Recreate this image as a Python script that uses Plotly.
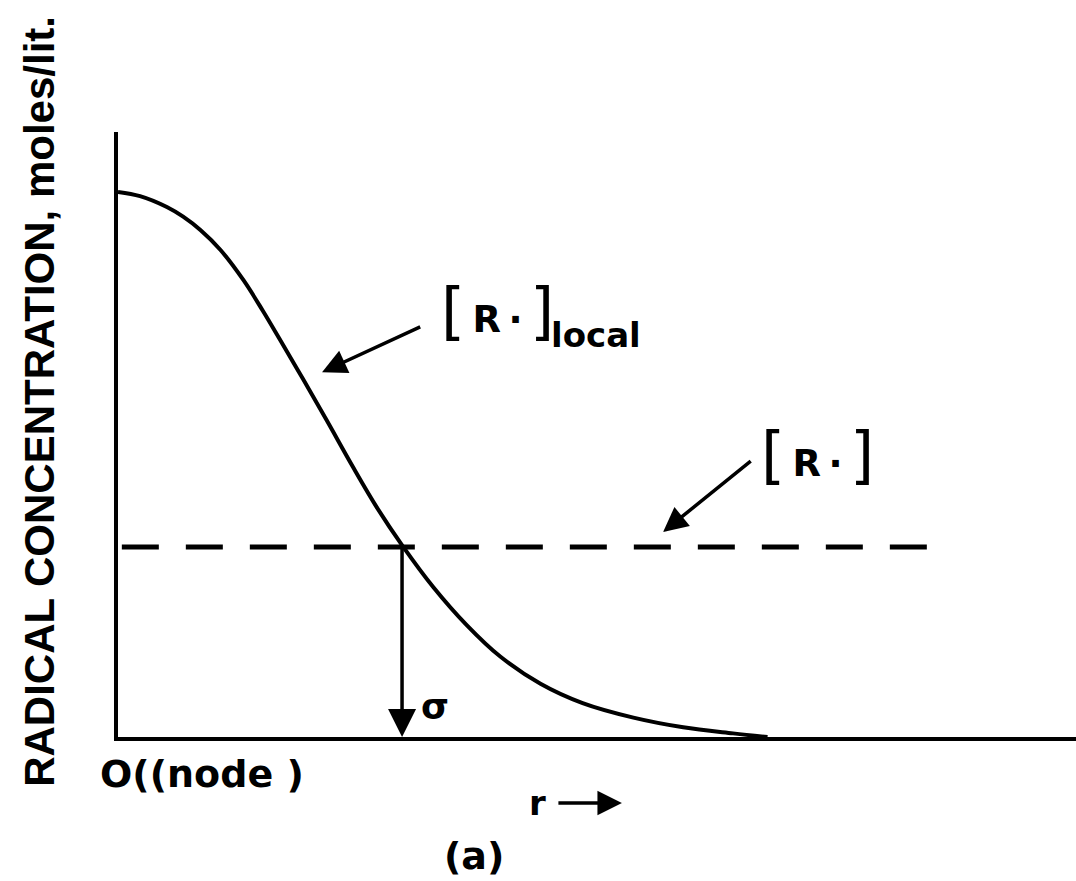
import plotly.graph_objects as go

# Local radical concentration vs. radial distance r from the node
r_local = [0.0, 0.23, 0.51, 0.68, 0.86, 1.07, 1.31, 1.51, 1.69, 1.93, 2.18, 2.45,
           2.70, 2.97, 3.29, 3.64, 3.99, 4.41, 4.85, 5.38, 5.90, 6.42, 6.78]
c_local = [0.901, 0.894, 0.876, 0.860, 0.838, 0.805, 0.755, 0.705, 0.657, 0.592, 0.523, 0.447,
           0.380, 0.316, 0.248, 0.185, 0.133, 0.088, 0.056, 0.032, 0.016, 0.006, 0.0]

# Mean radical concentration [R·] and the radius sigma where the local profile meets it
mean_r = [0.04, 8.55]
mean_conc = [0.314, 0.314]
sigma_r = 2.965

INK = "black"
LETTER = "DejaVu Sans"
THIN = "\u2009"

fig = go.Figure()

fig.add_trace(go.Scatter(
    x=r_local, y=c_local, mode="lines",
    line=dict(color=INK, width=4, shape="spline", smoothing=1.0),
    hoverinfo="skip", showlegend=False,
))

fig.add_trace(go.Scatter(
    x=mean_r, y=mean_conc, mode="lines",
    line=dict(color=INK, width=5, dash="37px,27px"),
    hoverinfo="skip", showlegend=False,
))

bracketed_R = ("<span style='font-size:62px;font-weight:normal'>[</span>" + THIN +
               "<b>R" + THIN + "·</b>" + THIN +
               "<span style='font-size:62px;font-weight:normal'>]</span>")

annotations = [
    # y-axis title
    dict(text="<b>RADICAL CONCENTRATION, moles/lit.</b>", xref="paper", yref="paper",
         x=-0.0814, y=0.554, textangle=-90, showarrow=False,
         font=dict(family="Liberation Sans, Arial", size=42, color=INK),
         xanchor="center", yanchor="middle"),
    # origin label
    dict(text="<b>O((node )</b>", xref="paper", yref="paper", x=0.088, y=-0.061,
         showarrow=False, font=dict(family=LETTER, size=38, color=INK),
         xanchor="center", yanchor="middle"),
    # r with direction arrow
    dict(text="<b>r</b>", xref="paper", yref="paper", x=0.4384, y=-0.109,
         showarrow=False, font=dict(family=LETTER, size=34, color=INK),
         xanchor="center", yanchor="middle"),
    dict(text="", xref="paper", yref="paper", x=0.526, y=-0.109, ax=-65, ay=0,
         showarrow=True, arrowhead=2, arrowsize=1.4, arrowwidth=3.5, arrowcolor=INK),
    # panel label
    dict(text="<b>(a)</b>", xref="paper", yref="paper", x=0.3716, y=-0.197,
         showarrow=False, font=dict(family=LETTER, size=38, color=INK),
         xanchor="center", yanchor="middle"),
    # [R·]local label and pointer
    dict(text=bracketed_R, x=3.35, y=0.705, xref="x", yref="y", showarrow=False,
         font=dict(family=LETTER, size=37, color=INK), xanchor="left", yanchor="middle"),
    dict(text="<b>local</b>", x=4.50, y=0.665, xref="x", yref="y", showarrow=False,
         font=dict(family=LETTER, size=34, color=INK), xanchor="left", yanchor="middle"),
    dict(text="", x=2.13, y=0.603, ax=3.17, ay=0.679, xref="x", yref="y",
         axref="x", ayref="y", showarrow=True, arrowhead=2, arrowsize=1.4,
         arrowwidth=3.5, arrowcolor=INK),
    # [R·] label and pointer
    dict(text=bracketed_R, x=7.30, y=0.467, xref="x", yref="y", showarrow=False,
         font=dict(family=LETTER, size=37, color=INK), xanchor="center", yanchor="middle"),
    dict(text="", x=5.69, y=0.339, ax=6.62, ay=0.458, xref="x", yref="y",
         axref="x", ayref="y", showarrow=True, arrowhead=2, arrowsize=1.4,
         arrowwidth=3.5, arrowcolor=INK),
    # sigma marker
    dict(text="", x=sigma_r, y=0, ax=sigma_r, ay=mean_conc[0], xref="x", yref="y",
         axref="x", ayref="y", showarrow=True, arrowhead=2, arrowsize=1.6,
         arrowwidth=3.5, arrowcolor=INK),
    dict(text="<b>σ</b>", x=3.31, y=0.050, xref="x", yref="y", showarrow=False,
         font=dict(family=LETTER, size=36, color=INK), xanchor="center", yanchor="middle"),
]

fig.update_layout(
    width=1076, height=881,
    margin=dict(l=118, r=0, t=132, b=144, pad=0),
    paper_bgcolor="white", plot_bgcolor="white",
    showlegend=False,
    annotations=annotations,
    xaxis=dict(range=[0, 10], showline=True, linecolor=INK, linewidth=4,
               showgrid=False, zeroline=False, showticklabels=False, ticks=""),
    yaxis=dict(range=[0, 1], showline=True, linecolor=INK, linewidth=4,
               showgrid=False, zeroline=False, showticklabels=False, ticks=""),
)

fig.write_html("out.html")
